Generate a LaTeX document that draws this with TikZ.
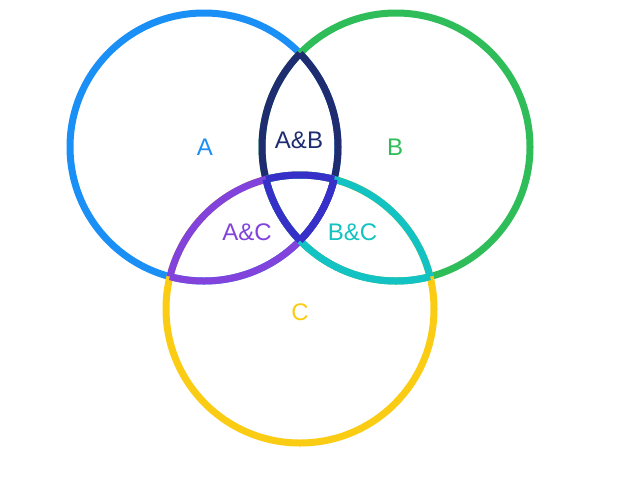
\documentclass[tikz,border=0pt]{standalone}
\usepackage{fontspec}
\setmainfont{Liberation Sans}
\definecolor{cA}{HTML}{1A8FF5}
\definecolor{cB}{HTML}{2EBD59}
\definecolor{cC}{HTML}{FACC14}
\definecolor{cAB}{HTML}{1F2D70}
\definecolor{cAC}{HTML}{8243DD}
\definecolor{cBC}{HTML}{13C2C2}
\definecolor{cABC}{HTML}{3730C8}
\begin{document}
\begin{tikzpicture}[x=1pt,y=-1pt,
  ring/.style={line width=7pt},
  lbl/.style={font=\fontsize{24}{28}\selectfont, inner sep=0pt}]
\useasboundingbox[fill=white] (0,0) rectangle (618,480);
\def\R{134pt}
\coordinate (ca) at (204,147);
\coordinate (cb) at (396,147);
\coordinate (cc) at (300,309);
% base circles
\draw[ring,cA] (ca) circle[radius=\R];
\draw[ring,cB] (cb) circle[radius=\R];
\draw[ring,cC] (cc) circle[radius=\R];
% pairwise arcs
\begin{scope}\clip (cb) circle[radius=\R];
  \draw[ring,cAB] (ca) circle[radius=\R];\end{scope}
\begin{scope}\clip (ca) circle[radius=\R];
  \draw[ring,cAB] (cb) circle[radius=\R];\end{scope}
\begin{scope}\clip (cc) circle[radius=\R];
  \draw[ring,cAC] (ca) circle[radius=\R];\end{scope}
\begin{scope}\clip (ca) circle[radius=\R];
  \draw[ring,cAC] (cc) circle[radius=\R];\end{scope}
\begin{scope}\clip (cc) circle[radius=\R];
  \draw[ring,cBC] (cb) circle[radius=\R];\end{scope}
\begin{scope}\clip (cb) circle[radius=\R];
  \draw[ring,cBC] (cc) circle[radius=\R];\end{scope}
% triple arcs
\begin{scope}\clip (cb) circle[radius=\R];\clip (cc) circle[radius=\R];
  \draw[ring,cABC] (ca) circle[radius=\R];\end{scope}
\begin{scope}\clip (ca) circle[radius=\R];\clip (cc) circle[radius=\R];
  \draw[ring,cABC] (cb) circle[radius=\R];\end{scope}
\begin{scope}\clip (ca) circle[radius=\R];\clip (cb) circle[radius=\R];
  \draw[ring,cABC] (cc) circle[radius=\R];\end{scope}
% labels
\node[lbl,text=cA] (la) at (205,147) {A};
\node[lbl,text=cB] (lb) at (395,147) {B};
\node[lbl,text=cC] (lc) at (300,312) {C};
\node[lbl,text=cAB] (lab) at (299,140.5) {A\&B};
\node[lbl,text=cAC] (lac) at (247,232) {A\&C};
\node[lbl,text=cBC] (lbc) at (352.5,232) {B\&C};
\end{tikzpicture}
\end{document}
